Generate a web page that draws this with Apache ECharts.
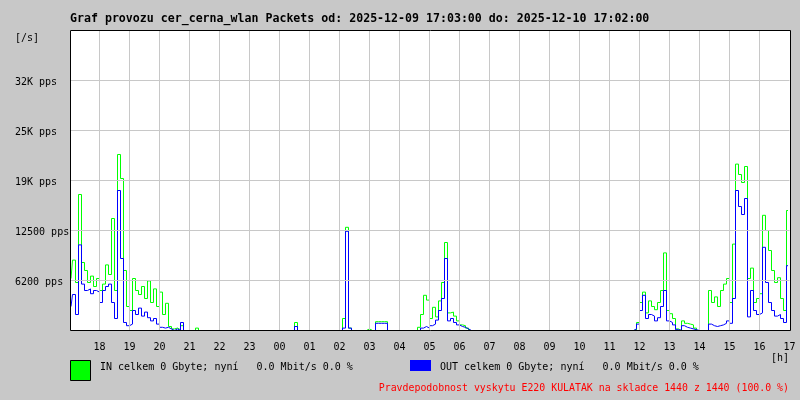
<!DOCTYPE html>
<html>
<head>
<meta charset="utf-8">
<script src="https://cdn.jsdelivr.net/npm/echarts@6/dist/echarts.min.js"></script>
<style>html,body{margin:0;padding:0;background:#c8c8c8;}#c{width:800px;height:400px;}</style>
</head>
<body>
<div id="c"></div>
<script>
// Time of first sample (hours, 17:03) and sample step (6 minutes)
const startHour = 17.05;
const stepHours = 0.1;

// IN packets per second (green)
const inValues = [
  6500, 8800, 6000, 17000, 8500, 7500, 6000, 6800, 5500, 6500,
  5000, 5800, 8200, 7000, 14000, 5000, 22000, 19000, 7500, 3000,
  2500, 6500, 5000, 4500, 5500, 4000, 6200, 3500, 5200, 3000,
  4800, 2000, 3400, 500, 200, 300, 100, 600, 0, 0,
  0, 0, 300, 0, 0, 0, 0, 0, 0, 0,
  0, 0, 0, 0, 0, 0, 0, 0, 0, 0,
  0, 0, 0, 0, 0, 0, 0, 0, 0, 0,
  0, 0, 0, 0, 0, 1000, 0, 0, 0, 0,
  0, 0, 0, 0, 0, 0, 0, 0, 0, 0,
  0, 1500, 12900, 300, 0, 0, 0, 0, 0, 200,
  0, 0, 1100, 1100, 1100, 1100, 0, 0, 0, 0,
  0, 0, 0, 0, 0, 0, 400, 2000, 4400, 3800,
  1500, 2900, 1700, 3700, 6000, 11000, 2200, 2300, 1800, 1200,
  700, 600, 300, 0, 0, 0, 0, 0, 0, 0,
  0, 0, 0, 0, 0, 0, 0, 0, 0, 0,
  0, 0, 0, 0, 0, 0, 0, 0, 0, 0,
  0, 0, 0, 0, 0, 0, 0, 0, 0, 0,
  0, 0, 0, 0, 0, 0, 0, 0, 0, 0,
  0, 0, 0, 0, 0, 0, 0, 0, 0, 1000,
  3500, 4800, 2200, 3700, 3000, 2600, 3500, 5000, 9700, 2500,
  2100, 1500, 200, 0, 1200, 900, 800, 700, 300, 0,
  0, 0, 0, 5000, 3500, 4200, 3000, 5000, 5800, 6500,
  3500, 10800, 20800, 19500, 18500, 20500, 6500, 7800, 3500, 4000,
  4600, 14400, 12500, 10000, 7500, 6000, 6600, 4000, 2500, 15000
];

// OUT packets per second (blue)
const outValues = [
  3000, 4500, 2000, 10700, 5800, 5000, 5200, 4600, 5000, 4800,
  3500, 5000, 5500, 5800, 3500, 1500, 17500, 9000, 1000, 600,
  800, 2500, 2000, 2800, 1800, 2300, 1600, 1200, 1500, 800,
  400, 300, 400, 200, 0, 200, 0, 1000, 0, 0,
  0, 0, 0, 0, 0, 0, 0, 0, 0, 0,
  0, 0, 0, 0, 0, 0, 0, 0, 0, 0,
  0, 0, 0, 0, 0, 0, 0, 0, 0, 0,
  0, 0, 0, 0, 0, 500, 0, 0, 0, 0,
  0, 0, 0, 0, 0, 0, 0, 0, 0, 0,
  0, 300, 12400, 300, 0, 0, 0, 0, 0, 0,
  0, 0, 900, 900, 900, 900, 0, 0, 0, 0,
  0, 0, 0, 0, 0, 0, 0, 300, 500, 300,
  600, 800, 1300, 2500, 4000, 9000, 1200, 1500, 1000, 700,
  500, 400, 200, 0, 0, 0, 0, 0, 0, 0,
  0, 0, 0, 0, 0, 0, 0, 0, 0, 0,
  0, 0, 0, 0, 0, 0, 0, 0, 0, 0,
  0, 0, 0, 0, 0, 0, 0, 0, 0, 0,
  0, 0, 0, 0, 0, 0, 0, 0, 0, 0,
  0, 0, 0, 0, 0, 0, 0, 0, 200, 800,
  2500, 4400, 1500, 2000, 1800, 1200, 1600, 3000, 5000, 1200,
  1000, 700, 100, 0, 600, 400, 300, 200, 100, 0,
  0, 0, 0, 800, 600, 500, 600, 700, 900, 1200,
  900, 4000, 17500, 15500, 14500, 16500, 1700, 5000, 2500, 2000,
  2200, 10400, 6000, 3500, 2500, 1800, 2000, 1500, 1000, 8100
];

// Y axis ticks and labels
const yTickValues = [6250, 12500, 18750, 25000, 31250];
const yTickLabels = ['6200 pps', '12500 pps', '19K pps', '25K pps', '32K pps'];
// X axis hour labels (18,19,...,23,00,...,17)
const xTickLabels = ['18','19','20','21','22','23','00','01','02','03','04','05','06','07','08','09','10','11','12','13','14','15','16','17'];

const titleText = 'Graf provozu cer_cerna_wlan Packets od: 2025-12-09 17:03:00 do: 2025-12-10 17:02:00';
const inLegend = 'IN celkem 0 Gbyte; nyní   0.0 Mbit/s 0.0 %';
const outLegend = 'OUT celkem 0 Gbyte; nyní   0.0 Mbit/s 0.0 %';
const noteText = 'Pravdepodobnost vyskytu E220 KULATAK na skladce 1440 z 1440 (100.0 %)';

const mono = 'DejaVu Sans Mono';
const toPairs = arr => arr.map((v, i) => [startHour + i * stepHours, v]);

const chart = echarts.init(document.getElementById('c'), null, {renderer: 'canvas'});
chart.setOption({
  animation: false,
  backgroundColor: '#c8c8c8',
  grid: {
    left: 69.5, top: 30.5, width: 720, height: 300,
    show: false
  },
  xAxis: {
    type: 'value', min: 17, max: 41, interval: 1, z: 10,
    axisLine: {show: false},
    axisTick: {show: false},
    splitLine: {show: true, showMinLine: false, showMaxLine: false, lineStyle: {color: '#c8c8c8', width: 1}},
    axisLabel: {
      showMinLabel: false, showMaxLabel: true, margin: 12,
      color: '#000', fontFamily: mono, fontSize: 10,
      formatter: v => xTickLabels[Math.round(v) - 18] || ''
    }
  },
  yAxis: {
    type: 'value', min: 0, max: 37500, interval: 6250, z: 10,
    axisLine: {show: false},
    axisTick: {show: false},
    splitLine: {show: true, showMinLine: false, showMaxLine: false, lineStyle: {color: '#c8c8c8', width: 1}},
    axisLabel: {
      showMinLabel: false, showMaxLabel: false,
      align: 'left', verticalAlign: 'top', lineHeight: 4, margin: 54.5,
      color: '#000', fontFamily: mono, fontSize: 10,
      formatter: v => {
        const k = yTickValues.indexOf(v);
        return k >= 0 ? yTickLabels[k] : '';
      }
    }
  },
  series: [
    {
      name: 'IN', type: 'line', step: 'middle', showSymbol: false, symbol: 'none',
      data: toPairs(inValues), lineStyle: {color: '#00ff00', width: 1}, z: 2
    },
    {
      name: 'OUT', type: 'line', step: 'middle', showSymbol: false, symbol: 'none',
      data: toPairs(outValues), lineStyle: {color: '#0000ff', width: 1}, z: 3
    }
  ],
  graphic: [
    {type: 'rect', z: -10, silent: true, shape: {x: 70, y: 30, width: 720, height: 300}, style: {fill: '#ffffff'}},
    {type: 'rect', z: 100, silent: true, shape: {x: 70.5, y: 30.5, width: 720, height: 300}, style: {fill: 'none', stroke: '#000', lineWidth: 1}},
    {type: 'text', left: 70, top: 13, style: {text: titleText, fill: '#000', font: 'bold 11.6px "DejaVu Sans Mono"'}},
    {type: 'text', left: 15, top: 33, style: {text: '[/s]', fill: '#000', font: '10px "DejaVu Sans Mono"'}},
    {type: 'text', left: 771, top: 353, style: {text: '[h]', fill: '#000', font: '10px "DejaVu Sans Mono"'}},
    {type: 'rect', shape: {x: 70.5, y: 360.5, width: 20, height: 20}, style: {fill: '#00ff00', stroke: '#000', lineWidth: 1}},
    {type: 'text', left: 100, top: 362, style: {text: inLegend, fill: '#000', font: '10px "DejaVu Sans Mono"'}},
    {type: 'rect', shape: {x: 410, y: 360, width: 21, height: 11}, style: {fill: '#0000ff'}},
    {type: 'text', left: 440, top: 362, style: {text: outLegend, fill: '#000', font: '10px "DejaVu Sans Mono"'}},
    {type: 'text', right: 11, top: 383, style: {text: noteText, fill: '#ff0000', font: '9.9px "DejaVu Sans Mono"'}}
  ]
});
</script>
</body>
</html>
